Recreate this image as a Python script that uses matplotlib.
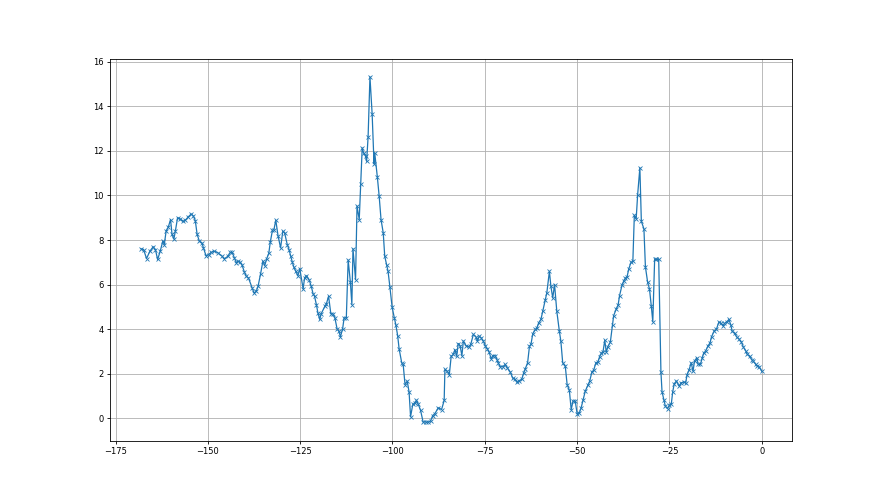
import matplotlib
matplotlib.use("Agg")
import matplotlib.pyplot as plt

x_seg1 = [-168.1, -167.4, -166.6, -165.7, -164.8, -164.2, -163.6, -162.9, -162.2, -161.8,
          -161.3, -160.7, -160.1, -159.7, -159.2, -158.8, -158.2, -157.5, -156.8, -156.1,
          -155.3, -154.5, -153.9, -153.4, -152.9, -152.3, -151.6, -151.2, -150.5, -149.8,
          -149.1, -148.2, -147.3, -146.1, -145.5, -144.6, -143.9, -143.4, -142.8, -142.3,
          -141.9, -141.2, -140.7, -140.1, -139.6, -139.0, -138.0, -137.5, -136.9, -136.4,
          -135.7, -135.1, -134.6, -134.1, -133.5, -133.1, -132.5, -132.1, -131.6, -131.0,
          -130.3, -129.7, -129.2, -128.5, -128.0, -127.6, -127.1, -126.7, -126.2, -125.6,
          -125.1, -124.2, -123.8, -123.3, -122.6, -122.0, -121.5, -121.1, -120.6, -120.2,
          -119.7, -119.3, -118.3, -117.9, -117.3, -116.7, -116.1, -115.6, -115.0, -114.5,
          -114.1, -113.5, -113.1, -112.5, -112.0, -111.4, -111.0, -110.7, -110.0, -109.6,
          -109.0, -108.6, -108.2, -107.8, -107.3, -107.0, -106.6, -106.1, -105.5, -105.0,
          -104.8, -104.1, -103.6, -103.1, -102.5, -102.1, -101.6, -101.2, -100.7, -100.1,
          -99.5, -99.1, -98.6, -98.2, -97.5, -97.1, -96.6, -96.0, -95.5, -95.1]
y_seg1 = [7.61, 7.57, 7.17, 7.5, 7.7, 7.57, 7.13, 7.5, 7.95, 7.8,
          8.4, 8.59, 8.92, 8.25, 8.05, 8.4, 9.0, 8.95, 8.84, 8.89,
          9.04, 9.17, 9.07, 8.87, 8.25, 7.95, 7.87, 7.65, 7.3, 7.35,
          7.45, 7.5, 7.43, 7.27, 7.16, 7.27, 7.45, 7.45, 7.2, 6.98,
          7.05, 7.0, 6.86, 6.56, 6.38, 6.3, 5.86, 5.63, 5.7, 5.93,
          6.5, 7.05, 6.85, 7.15, 7.4, 7.9, 8.44, 8.47, 8.89, 8.2,
          7.65, 8.4, 8.32, 7.8, 7.57, 7.3, 7.0, 6.78, 6.6, 6.4,
          6.72, 5.81, 6.3, 6.4, 6.23, 5.93, 5.59, 5.48, 5.1, 4.74,
          4.44, 4.7, 5.03, 5.14, 5.48, 4.7, 4.69, 4.51, 4.02, 3.91,
          3.66, 4.02, 4.51, 4.51, 7.1, 6.11, 5.11, 7.61, 6.23, 9.52,
          8.92, 10.53, 12.13, 11.9, 11.76, 11.53, 12.63, 15.32, 13.63, 11.43,
          11.9, 10.83, 9.96, 8.92, 8.32, 7.28, 6.9, 6.6, 5.9, 5.0,
          4.51, 4.21, 3.72, 3.12, 2.5, 2.42, 1.52, 1.67, 1.18, 0.08]

x_seg2 = [-94.5, -93.9, -93.5, -93.0, -92.4, -91.7, -90.9, -90.3, -89.7, -89.1,
          -88.5, -87.6, -86.7, -86.0, -85.8, -85.2, -84.6, -84.1, -83.5, -83.1,
          -82.6, -82.2, -81.7, -81.2, -80.8, -80.1, -79.4, -78.8, -78.1, -77.4,
          -77.0, -76.5, -76.0, -75.4, -74.9, -74.3, -73.8, -73.3, -72.8, -72.2,
          -71.7, -71.3, -70.8, -70.1, -69.5, -68.9, -68.1, -67.4, -66.8, -66.3,
          -65.7, -65.0, -64.5, -64.1, -63.4, -62.9, -62.5, -62.0, -61.3, -60.9,
          -60.4, -59.8, -59.3, -58.6, -58.2, -57.5, -57.1, -56.6, -56.1, -55.5,
          -54.8, -54.4, -53.9, -53.2, -52.7, -52.1, -51.6, -51.1, -50.5, -50.0,
          -49.4, -48.9, -48.4, -47.8, -47.1, -46.6, -46.0, -45.5, -44.9, -44.4,
          -43.9, -43.4, -43.0, -42.5, -42.1, -41.7, -41.0, -40.4, -40.1, -39.4,
          -38.9, -38.5, -37.8, -37.4, -36.9, -36.5, -36.0, -35.4, -34.9, -34.5,
          -34.0, -33.6, -33.0, -32.6, -31.9, -31.5, -30.9, -30.4, -29.9, -29.5,
          -29.0, -28.5, -27.9]
y_seg2 = [0.63, 0.7, 0.82, 0.63, 0.37, -0.16, -0.16, -0.16, -0.12, 0.13,
          0.22, 0.48, 0.4, 0.81, 2.2, 2.12, 1.97, 2.79, 2.87, 3.09,
          2.79, 3.36, 3.27, 2.82, 3.47, 3.27, 3.21, 3.32, 3.77, 3.66,
          3.47, 3.69, 3.62, 3.47, 3.27, 3.12, 2.97, 2.68, 2.82, 2.82,
          2.64, 2.47, 2.32, 2.32, 2.42, 2.27, 2.08, 1.8, 1.75, 1.62,
          1.7, 1.75, 2.02, 2.2, 2.5, 3.24, 3.32, 3.8, 3.99, 4.06,
          4.29, 4.44, 4.81, 5.33, 5.63, 6.6, 5.93, 5.41, 6.0, 4.81,
          3.91, 3.47, 2.5, 2.34, 1.52, 1.27, 0.4, 0.78, 0.78, 0.22,
          0.25, 0.48, 0.82, 1.22, 1.48, 1.67, 2.08, 2.17, 2.5, 2.52,
          2.77, 2.94, 2.97, 3.51, 2.97, 3.21, 3.42, 4.21, 4.61, 4.91,
          5.08, 5.51, 6.0, 6.15, 6.3, 6.33, 6.71, 7.0, 7.05, 9.11,
          8.95, 10.04, 11.24, 8.84, 8.5, 6.8, 6.11, 5.81, 5.03, 4.34,
          7.13, 7.13, 7.13]

x_seg3 = [-27.3, -27.0, -26.5, -26.1, -25.5, -25.0, -24.5, -24.1, -23.7, -23.1,
          -22.4, -21.8, -21.1, -20.6, -20.2, -19.7, -19.1, -18.6, -18.2, -17.6,
          -17.2, -16.6, -16.1, -15.7, -15.2, -14.6, -14.0, -13.6, -12.9, -12.3,
          -11.6, -11.0, -10.4, -10.1, -9.5, -8.9, -8.4, -8.0, -7.3, -6.8,
          -6.2, -5.5, -5.0, -4.3, -3.9, -3.3, -2.7, -2.3, -1.6, -1.2,
          -0.7, 0.0]
y_seg3 = [2.1, 1.2, 0.85, 0.55, 0.44, 0.6, 0.63, 1.2, 1.55, 1.68,
          1.46, 1.6, 1.63, 1.6, 1.97, 2.17, 2.5, 2.12, 2.57, 2.72,
          2.42, 2.42, 2.72, 2.94, 3.02, 3.24, 3.39, 3.66, 3.91, 3.99,
          4.32, 4.26, 4.14, 4.26, 4.32, 4.44, 4.21, 3.91, 3.81, 3.66,
          3.57, 3.42, 3.21, 3.02, 2.87, 2.79, 2.64, 2.57, 2.42, 2.34,
          2.32, 2.12]

x = x_seg1 + x_seg2 + x_seg3
y = y_seg1 + y_seg2 + y_seg3

plt.rcParams['font.size'] = 6
fig, ax = plt.subplots(figsize=(8.8, 4.95), dpi=100)
ax.plot(x, y, marker='x', color='#1f77b4', linewidth=0.9, markersize=3.5,
        markeredgewidth=0.6)
ax.grid(True, color='#b0b0b0', linewidth=0.6)
ax.set_xticks([-175, -150, -125, -100, -75, -50, -25, 0])
ax.set_yticks([0, 2, 4, 6, 8, 10, 12, 14, 16])
ax.set_xlim(-176.5, 8.2)
ax.set_ylim(-0.99, 16.1)
for s in ax.spines.values():
    s.set_linewidth(0.6)
ax.tick_params(width=0.6, length=2.5, pad=2)
fig.savefig('out.png', dpi=100)
